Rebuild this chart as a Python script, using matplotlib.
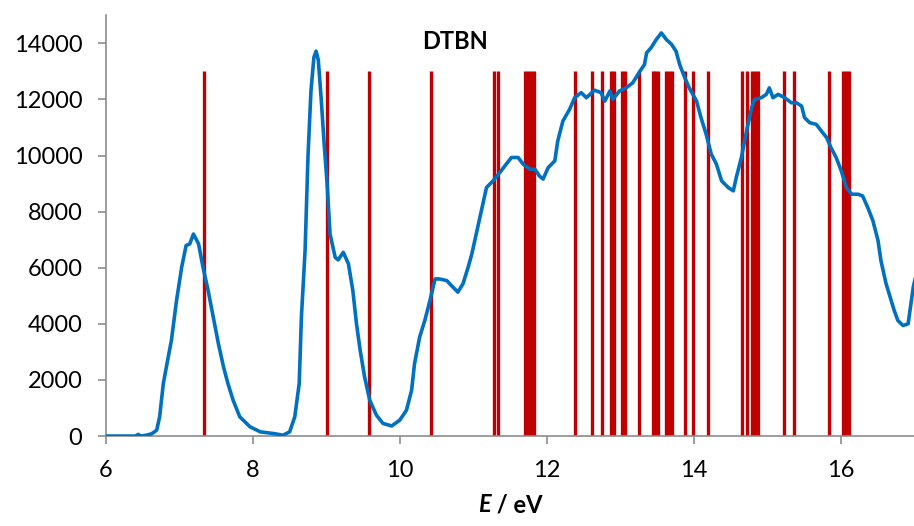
import matplotlib
matplotlib.use("Agg")
import matplotlib.pyplot as plt

# Spectrum (energy in eV, intensity)
energy = [6.00, 6.20, 6.40, 6.44, 6.47, 6.55, 6.62, 6.66, 6.69, 6.73, 6.78, 6.83, 6.89, 6.96,
          7.03, 7.09, 7.14, 7.19, 7.26, 7.32, 7.39, 7.46, 7.53, 7.60, 7.66, 7.73, 7.82,
          7.96, 8.10, 8.28, 8.41, 8.50, 8.57, 8.63, 8.66, 8.71, 8.75, 8.79, 8.83, 8.86,
          8.89, 8.93, 8.97, 9.01, 9.05, 9.12, 9.16, 9.23, 9.30, 9.36, 9.41, 9.46, 9.52,
          9.59, 9.68, 9.77, 9.89, 10.00, 10.09, 10.16, 10.20, 10.27, 10.34, 10.41, 10.48,
          10.54, 10.64, 10.70, 10.79, 10.86, 10.93, 10.98, 11.04, 11.11, 11.18, 11.27,
          11.36, 11.43, 11.52, 11.61, 11.68, 11.77, 11.84, 11.90, 11.95, 12.02, 12.11,
          12.15, 12.22, 12.31, 12.38, 12.47, 12.54, 12.65, 12.74, 12.79, 12.86, 12.90,
          12.99, 13.08, 13.17, 13.27, 13.33, 13.36, 13.42, 13.49, 13.56, 13.63, 13.70,
          13.76, 13.81, 13.88, 13.94, 14.04, 14.10, 14.17, 14.24, 14.31, 14.38, 14.47,
          14.54, 14.58, 14.65, 14.72, 14.79, 14.83, 14.92, 14.99, 15.03, 15.08, 15.15,
          15.24, 15.33, 15.40, 15.47, 15.51, 15.58, 15.67, 15.74, 15.81, 15.87, 15.94,
          16.01, 16.08, 16.15, 16.24, 16.30, 16.37, 16.44, 16.51, 16.55, 16.62, 16.69,
          16.73, 16.78, 16.85, 16.92, 16.99, 17.05]
intensity = [0, 0, 0, 60, 0, 30, 80, 150, 213, 690, 1870, 2580, 3410, 4830,
             6020, 6790, 6850, 7200, 6850, 6020, 5190, 4240, 3290, 2460, 1870, 1280, 690,
             330, 150, 90, 30, 150, 690, 1870, 4240, 6610, 10000, 12300, 13500, 13720,
             13400, 12000, 10400, 9000, 7200, 6370, 6280, 6550, 6140, 5190, 4000, 3060, 2110,
             1280, 750, 450, 360, 570, 920, 1630, 2580, 3530, 4120, 4830, 5600,
             5600, 5540, 5370, 5130, 5430, 6020, 6490, 7200, 8030, 8860, 9100,
             9390, 9630, 9930, 9930, 9690, 9510, 9510, 9270, 9160, 9570, 9810,
             10520, 11230, 11640, 12060, 12240, 12060, 12330, 12240, 11940, 12300, 12000,
             12300, 12410, 12590, 13010, 13240, 13660, 13840, 14130, 14370, 14130, 13960,
             13720, 13240, 12770, 12410, 11940, 11350, 10760, 10050, 9690, 9100, 8860,
             8740, 9210, 9930, 10870, 11700, 12000, 12060, 12180, 12410, 12060, 12180,
             12060, 11880, 11880, 11760, 11350, 11170, 11110, 10870, 10640, 10280, 9930,
             9450, 8860, 8620, 8620, 8560, 8150, 7680, 6970, 6250, 5430, 4830,
             4480, 4120, 3940, 4000, 5310, 6000]

# Calculated transition energies (eV)
transitions = [7.34, 9.01, 9.58, 10.43, 11.28, 11.33, 11.71, 11.75, 11.79, 11.83,
               12.39, 12.62, 12.75, 12.87, 12.91, 13.02, 13.06, 13.25, 13.45, 13.48,
               13.52, 13.63, 13.66, 13.70, 13.88, 13.99, 14.19, 14.66, 14.72, 14.79,
               14.83, 14.87, 15.23, 15.36, 15.84, 16.03, 16.07, 16.11]
stick_height = 13000

x_ticks = [6, 8, 10, 12, 14, 16]
y_ticks = [0, 2000, 4000, 6000, 8000, 10000, 12000, 14000]

plt.rcParams['font.family'] = ['Lato', 'DejaVu Sans']

fig = plt.figure(figsize=(9.14, 5.26), dpi=100)
ax = fig.add_axes([0.116, 0.171, 0.884, 0.800])

ax.vlines(transitions, 0, stick_height, color='#C00000', lw=2.4, zorder=2)
ax.plot(energy, intensity, color='#0070C0', lw=2.6, zorder=3, solid_joinstyle='round')

ax.set_xlim(6, 17)
ax.set_ylim(0, 15000)
ax.set_xticks(x_ticks)
ax.set_yticks(y_ticks)
ax.set_xticklabels([str(v) for v in x_ticks])
ax.set_yticklabels([str(v) for v in y_ticks])

for s in ['top', 'right']:
    ax.spines[s].set_visible(False)
for s in ['left', 'bottom']:
    ax.spines[s].set_color('#8C8C8C')
    ax.spines[s].set_linewidth(1.2)
ax.tick_params(axis='both', direction='out', length=6, width=1.2, color='#8C8C8C',
               labelsize=17, labelcolor='black', pad=11)

fig.text(0.537, 0.040, ' / eV', fontsize=17, fontweight='bold', ha='left', va='center')
fig.text(0.537, 0.040, 'E', fontsize=17, fontweight='bold', style='italic', ha='right', va='center')

ax.text(10.75, 14070, 'DTBN', fontsize=17, fontweight='bold', ha='center', va='center')

fig.savefig('out.png', dpi=100)
